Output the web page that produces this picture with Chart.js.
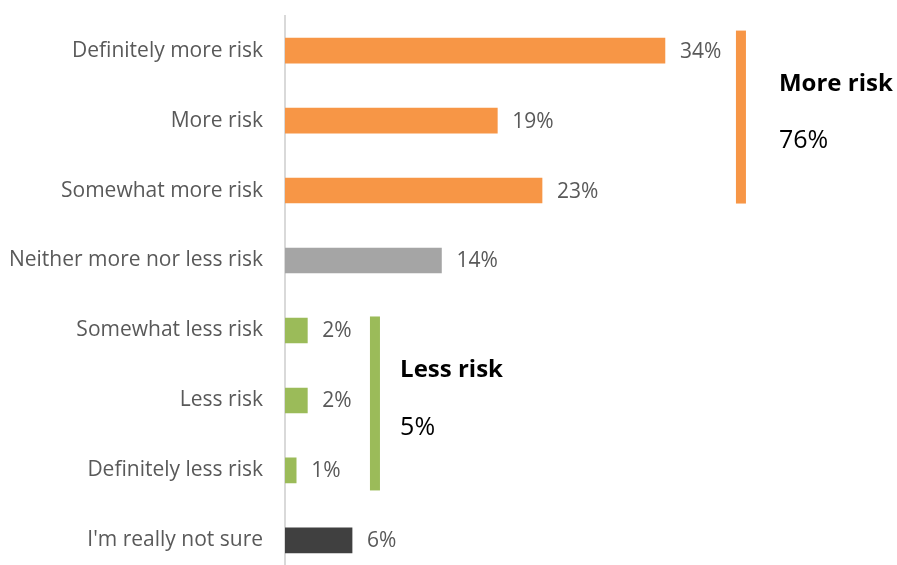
<!DOCTYPE html>
<html>
<head>
<meta charset="utf-8">
<script src="https://cdn.jsdelivr.net/npm/chart.js@4.4.1/dist/chart.umd.min.js"></script>
<style>
  html, body { margin: 0; padding: 0; background: #fff; overflow: hidden; }
  #wrap { width: 897px; height: 565px; overflow: hidden; }
  /* taller canvas pulled up so the plot runs from just below the top edge past the bottom */
  #chartCanvas { margin-top: -19px; }
</style>
</head>
<body>
<div id="wrap"><canvas id="chartCanvas" width="897" height="629"></canvas></div>
<script>
const categories = [
  "Definitely more risk",
  "More risk",
  "Somewhat more risk",
  "Neither more nor less risk",
  "Somewhat less risk",
  "Less risk",
  "Definitely less risk",
  "I'm really not sure"
];
const values = [34, 19, 23, 14, 2, 2, 1, 6];
const barColors = ["#F79646", "#F79646", "#F79646", "#A5A5A5", "#9BBB59", "#9BBB59", "#9BBB59", "#404040"];

// side brackets: rows covered, where the bar sits (in % units) and where the text starts
const moreRisk = { label: "More risk", from: 0, to: 2, lineAt: 40.8, textAt: 44.2, color: "#F79646" };
const lessRisk = { label: "Less risk", from: 4, to: 6, lineAt: 8.05, textAt: 10.3, color: "#9BBB59" };
const groups = [moreRisk, lessRisk];

const FONT = "'Open Sans', sans-serif";

const valueLabels = {
  id: "valueLabels",
  afterDatasetsDraw(chart) {
    const ctx = chart.ctx;
    const meta = chart.getDatasetMeta(0);
    ctx.save();
    ctx.font = "21px " + FONT;
    ctx.fillStyle = "#595959";
    ctx.textAlign = "left";
    ctx.textBaseline = "middle";
    meta.data.forEach((bar, i) => {
      ctx.fillText(values[i] + "%", bar.x + 15, bar.y + 1);
    });
    ctx.restore();
  }
};

const brackets = {
  id: "brackets",
  afterDraw(chart) {
    const ctx = chart.ctx;
    const x = chart.scales.x;
    const y = chart.scales.y;
    ctx.save();
    groups.forEach(g => {
      const top = y.getPixelForValue(g.from) - (g.from === 0 ? 20 : 14);
      const bottom = y.getPixelForValue(g.to) + (g.from === 0 ? 13 : 20);
      const lx = x.getPixelForValue(g.lineAt);
      ctx.fillStyle = g.color;
      ctx.fillRect(lx - 5, top, 10, bottom - top);

      let total = 0;
      for (let i = g.from; i <= g.to; i++) total += values[i];
      const tx = x.getPixelForValue(g.textAt);
      const mid = (top + bottom) / 2;
      ctx.fillStyle = "#000";
      ctx.textAlign = "left";
      ctx.textBaseline = "middle";
      ctx.font = "bold 24px " + FONT;
      ctx.fillText(g.label, tx, mid - 33);
      ctx.font = "25px " + FONT;
      ctx.fillText(total + "%", tx, mid + 24);
    });
    ctx.restore();
  }
};

const ctx = document.getElementById("chartCanvas").getContext("2d");
new Chart(ctx, {
  type: "bar",
  data: {
    labels: categories,
    datasets: [{
      data: values,
      backgroundColor: barColors,
      barThickness: 25
    }]
  },
  options: {
    indexAxis: "y",
    responsive: false,
    animation: false,
    layout: { padding: { top: 0, right: 165, bottom: 0, left: 0 } },
    plugins: {
      legend: { display: false },
      tooltip: { enabled: false }
    },
    scales: {
      x: {
        min: 0,
        max: 40,
        display: false
      },
      y: {
        grid: { display: false, drawTicks: false },
        border: { display: true, color: "#D9D9D9", width: 2 },
        ticks: {
          color: "#595959",
          padding: 22,
          font: { family: FONT, size: 21 }
        },
        afterFit(scale) { scale.width = 285; }
      }
    }
  },
  plugins: [valueLabels, brackets]
});
</script>
</body>
</html>
